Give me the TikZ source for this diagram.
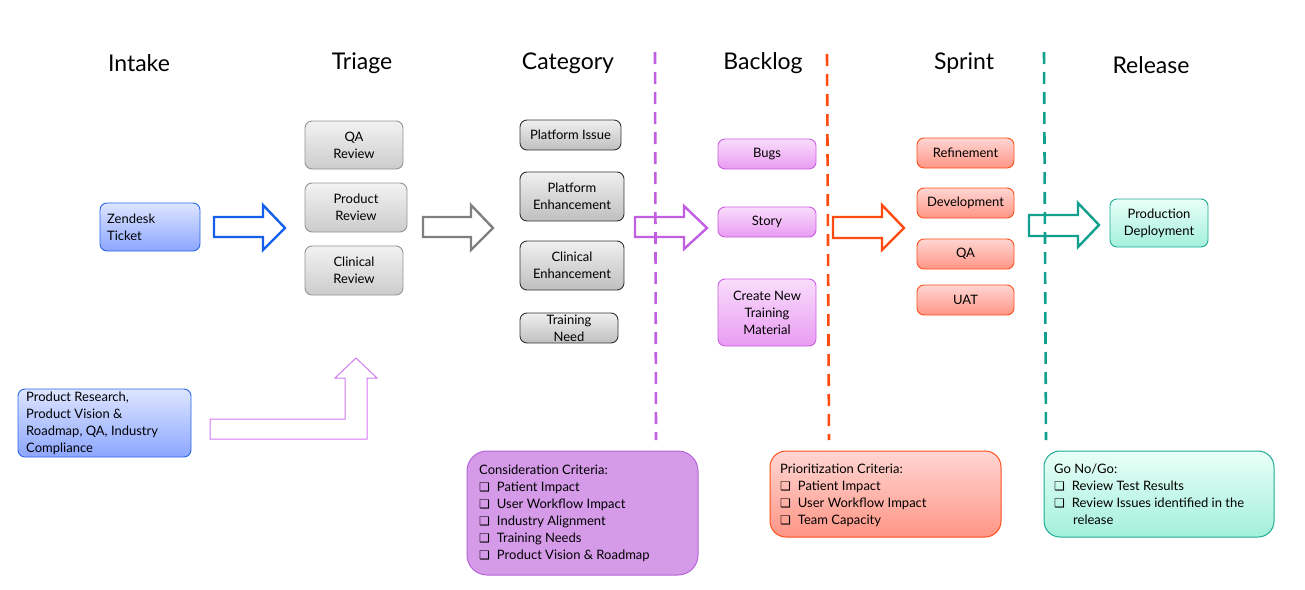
\documentclass[tikz,border=0pt]{standalone}
\usepackage{fontspec}
\setmainfont{Lato}
\newfontfamily\symfont{DejaVu Sans}
\begin{document}
\begin{tikzpicture}[x=1pt,y=-1pt,
  lbl/.style={font=\fontsize{13}{17}\selectfont, align=center, inner sep=0pt},
  head/.style={font=\fontsize{23}{27}\selectfont, anchor=center},
  rbox/.style={rounded corners=7pt, line width=0.9pt},
  graybox/.style={rbox, draw=gray!85, top color=gray!10, bottom color=gray!40},
  darkbox/.style={rbox, draw=black!80, top color=gray!12, bottom color=gray!50},
  bluebox/.style={rbox, draw=blueb, top color=bluet, bottom color=bluem},
  pinkbox/.style={rbox, draw=pinkb, top color=pinkt, bottom color=pinkm},
  redbox/.style={rbox, draw=redb, top color=redt, bottom color=redm},
  tealbox/.style={rbox, draw=tealb, top color=tealt, bottom color=tealm},
  blockarrow/.style={line width=2.4pt, fill=white, line join=miter},
  dline/.style={line width=2.6pt, dash pattern=on 12pt off 8pt}]
\definecolor{blueb}{HTML}{2A66E6}
\definecolor{bluet}{HTML}{DDE5FF}
\definecolor{bluem}{HTML}{8CA6FF}
\definecolor{pinkb}{HTML}{C95FE0}
\definecolor{pinkt}{HTML}{F9DDFC}
\definecolor{pinkm}{HTML}{E99BF2}
\definecolor{redb}{HTML}{FF4E1A}
\definecolor{redt}{HTML}{FFD6D3}
\definecolor{redm}{HTML}{FF9585}
\definecolor{tealb}{HTML}{1BAA94}
\definecolor{tealt}{HTML}{E9FFF8}
\definecolor{tealm}{HTML}{A3F0DA}
\definecolor{arrblue}{HTML}{1560E8}
\definecolor{arrgray}{HTML}{808080}
\definecolor{arrpurple}{HTML}{C060E0}
\definecolor{arrred}{HTML}{FF4A10}
\definecolor{arrteal}{HTML}{12A08E}
\definecolor{consfill}{HTML}{D59BE9}
\definecolor{consdraw}{HTML}{B565D8}
\definecolor{bentc}{HTML}{D27AF0}
\newcommand{\cbx}{{\symfont\fontsize{12}{17}\selectfont ❑}\hspace{7pt}}

\useasboundingbox (0,0) rectangle (1305,589);

% headings
\node[head] (hIntake) at (139,63) {Intake};
\node[head] (hTriage) at (362,63) {Triage};
\node[head] (hCategory) at (568,63) {Category};
\node[head] (hBacklog) at (763,63) {Backlog};
\node[head] (hSprint) at (964,63) {Sprint};
\node[head] (hRelease) at (1151,65) {Release};

% dashed separators
\coordinate (d1t) at (655,52); \coordinate (d1b) at (656,440);
\coordinate (d2t) at (827,54); \coordinate (d2b) at (829,440);
\coordinate (d3t) at (1044,52); \coordinate (d3b) at (1046,440);
\draw[dline, draw=arrpurple] (d1t) -- (d1b);
\draw[dline, draw=arrred] (d2t) -- (d2b);
\draw[dline, draw=arrteal] (d3t) -- (d3b);

% intake
\draw[bluebox] (100,203) rectangle (200,251);
\node[lbl, align=left, anchor=west] (zendesk) at (107,227) {Zendesk\\Ticket};
\draw[bluebox] (18,389) rectangle (191,457);
\node[lbl, align=left, anchor=west] (research) at (26,423) {Product Research,\\Product Vision \&\\Roadmap, QA, Industry\\Compliance};

% triage
\draw[graybox] (305,121) rectangle (403,169);
\node[lbl] (qarev) at (354,145) {QA\\Review};
\draw[graybox] (305,183) rectangle (407,232);
\node[lbl] (prodrev) at (356,207.5) {Product\\Review};
\draw[graybox] (305,246) rectangle (403,295);
\node[lbl] (clinrev) at (354,270.5) {Clinical\\Review};

% category
\draw[darkbox] (520,120) rectangle (621,150);
\node[lbl] (platissue) at (570.5,135) {Platform Issue};
\draw[darkbox] (520,172) rectangle (624,221);
\node[lbl] (platenh) at (572,196.5) {Platform\\Enhancement};
\draw[darkbox] (520,241) rectangle (624,290);
\node[lbl] (clinenh) at (572,265.5) {Clinical\\Enhancement};
\draw[darkbox] (520,313) rectangle (618,343);
\node[lbl] (train) at (569,328) {Training\\Need};

% backlog
\draw[pinkbox] (718,139) rectangle (816,169);
\node[lbl] (bugs) at (767,154) {Bugs};
\draw[pinkbox] (718,207) rectangle (816,237);
\node[lbl] (story) at (767,222) {Story};
\draw[pinkbox] (718,279) rectangle (816,346);
\node[lbl] (cntm) at (767,312.5) {Create New\\Training\\Material};

% sprint
\draw[redbox] (917,138) rectangle (1014,168);
\node[lbl] (refine) at (965.5,153) {Refinement};
\draw[redbox] (917,188) rectangle (1014,218);
\node[lbl] (devel) at (965.5,203) {Development};
\draw[redbox] (917,239) rectangle (1014,269);
\node[lbl] (sqa) at (965.5,254) {QA};
\draw[redbox] (917,285) rectangle (1014,315);
\node[lbl] (uat) at (965.5,300) {UAT};

% release
\draw[tealbox] (1110,199) rectangle (1208,247);
\node[lbl] (proddep) at (1159,223) {Production\\Deployment};

% block arrows
\draw[blockarrow, draw=arrblue] (214,217) -- (263,217) -- (263,205) -- (285,228) -- (263,250) -- (263,237) -- (214,237) -- cycle;
\draw[blockarrow, draw=arrgray] (423,217) -- (471,217) -- (471,205) -- (493,228) -- (471,250) -- (471,237) -- (423,237) -- cycle;
\draw[blockarrow, draw=arrpurple, fill=none] (635,217) -- (684,217) -- (684,206) -- (707,228) -- (684,249) -- (684,237) -- (635,237) -- cycle;
\draw[blockarrow, draw=arrred] (833,217) -- (882,217) -- (882,205) -- (904,228) -- (882,250) -- (882,238) -- (833,238) -- cycle;
\draw[blockarrow, draw=arrteal, fill=none] (1029,215) -- (1078,215) -- (1078,203) -- (1099,225) -- (1078,247) -- (1078,236) -- (1029,236) -- cycle;

% bent arrow
\draw[line width=1pt, draw=bentc, line join=miter] (210,419) -- (345,419) -- (345,378) -- (335,378) -- (356,358) -- (377,378) -- (367,378) -- (367,439) -- (210,439) -- cycle;

% criteria boxes
\draw[rounded corners=20pt, line width=1pt, draw=consdraw, fill=consfill] (467,451) rectangle (698,575);
\node[lbl, align=left, anchor=north west] (cons) at (479,465) {Consideration Criteria:\\
\cbx Patient Impact\\
\cbx User Workflow Impact\\
\cbx Industry Alignment\\
\cbx Training Needs\\
\cbx Product Vision \& Roadmap};

\draw[rounded corners=16pt, line width=1pt, draw=redb, top color=redt, bottom color=redm] (770,451) rectangle (1001,537);
\node[lbl, align=left, anchor=north west] (prio) at (780,464) {Prioritization Criteria:\\
\cbx Patient Impact\\
\cbx User Workflow Impact\\
\cbx Team Capacity};

\draw[rounded corners=16pt, line width=1pt, draw=tealb, top color=tealt, bottom color=tealm] (1044,451) rectangle (1274,537);
\node[lbl, align=left, anchor=north west] (gonogo) at (1054,464) {Go No/Go:\\
\cbx Review Test Results\\
\cbx Review Issues identified in the\\
\hspace{19pt}release};
\end{tikzpicture}
\end{document}
